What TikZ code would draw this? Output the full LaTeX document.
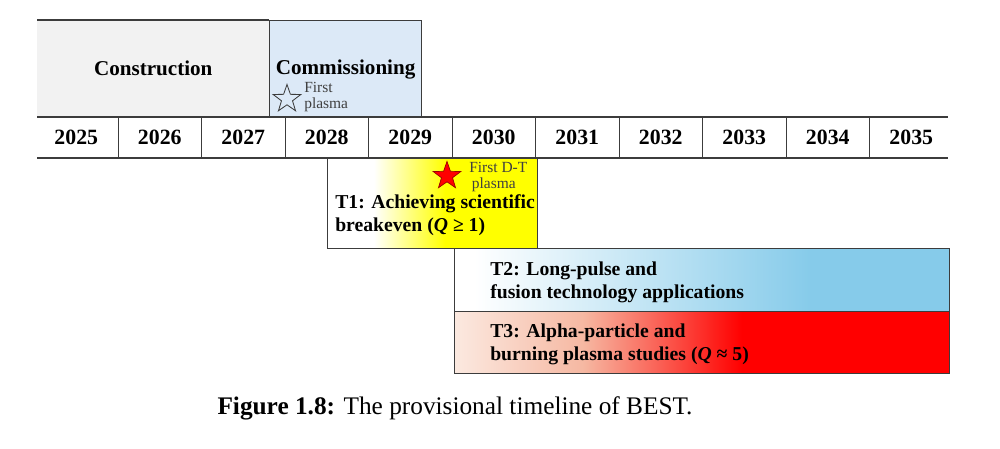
\documentclass[tikz,border=0pt]{standalone}
\usepackage{fontspec}
\setmainfont{Liberation Serif}
\usetikzlibrary{positioning,shapes.geometric}
\definecolor{bestframe}{HTML}{3C3C3C}
\definecolor{buildgray}{HTML}{F2F2F2}
\definecolor{commblue}{HTML}{DCE9F7}
\definecolor{skyfill}{HTML}{86CBEA}
\definecolor{peachfill}{HTML}{FBE9E0}
\definecolor{salmonfill}{HTML}{F6B8A2}
\definecolor{notegray}{HTML}{404040}
\pgfdeclarehorizontalshading{breakevenshade}{100bp}{color(0bp)=(white); color(36bp)=(white);
  color(53bp)=(yellow); color(100bp)=(yellow)}
\pgfdeclarehorizontalshading{longpulseshade}{100bp}{color(0bp)=(white); color(27bp)=(white);
  color(61bp)=(skyfill); color(100bp)=(skyfill)}
\pgfdeclarehorizontalshading{burningshade}{100bp}{color(0bp)=(peachfill); color(25bp)=(peachfill);
  color(38bp)=(salmonfill); color(54bp)=(red); color(100bp)=(red)}
\newcommand{\pxl}{0.025cm}
\tikzset{
  best line/.style={draw=bestframe,line width=0.9pt},
  best phase/.style={anchor=north west,inner sep=0pt,
    font=\fontsize{15}{18}\selectfont\bfseries},
  best year/.style={minimum width=83.5*\pxl,minimum height=41*\pxl,inner sep=0pt,
    font=\fontsize{15.5}{18}\selectfont\bfseries},
  best task/.style={best line,anchor=north west,inner sep=0pt},
  best tasktext/.style={anchor=west,align=left,inner sep=0pt,
    font=\fontsize{14}{16}\selectfont\bfseries},
  best note/.style={anchor=west,align=left,inner sep=0pt,text=notegray,
    font=\fontsize{11}{11}\selectfont},
  best star/.style={star,star points=5,star point ratio=2.5,inner sep=0pt,
    minimum size=29*\pxl},
  best caption/.style={font=\fontsize{18}{21}\selectfont}
}

\begin{document}
\begin{tikzpicture}[x=0.025cm,y=-0.025cm]
  \useasboundingbox (0,0) rectangle (1000,448);

  % Phases above the years.
  \node[best phase,fill=buildgray,minimum width=232*\pxl,minimum height=97*\pxl]
    (build) at (37,20) {Construction};
  \node[best phase,best line,fill=commblue,minimum width=152*\pxl,minimum height=97*\pxl]
    (comm) at (269,20) {Commissioning};
  \draw[best line] (build.north west) -- (comm.north west);
  \node[best star,draw=bestframe,line width=0.6pt] (plasmastar) at (287,99) {};
  \node[best note] (plasmanote) at (304,97) {First\\plasma};

  % Year row.
  \foreach \yr [count=\i from 0] in {2025,...,2035}
    \node[best year] (y\yr) at ({118+83.5*(\i-0.5)},137.5) {\yr};
  \foreach \yr in {2025,...,2034}
    \draw[best line] (y\yr.north east) -- (y\yr.south east);
  \draw[best line] (37,117) -- (948,117);
  \draw[best line] (37,158) -- (948,158);

  % Tasks.
  \node[best task,shading=breakevenshade,minimum width=210*\pxl,minimum height=90*\pxl]
    (taskone) at (327,158) {};
  \node[best task,shading=longpulseshade,minimum width=495*\pxl,minimum height=63*\pxl]
    (tasktwo) at (454,248) {};
  \node[best task,shading=burningshade,minimum width=495*\pxl,minimum height=62*\pxl]
    (taskthree) at (454,311) {};
  \node[best star,fill=red,draw=red!60!black,line width=0.5pt] (dtstar) at (447,176) {};
  \node[best note] (dtnote) at (469,177) {First D-T\\\,plasma};
  \node[best tasktext] (onetext) at (335,215)
    {T1: Achieving scientific\\breakeven (\textit{Q} ≥ 1)};
  \node[best tasktext] (twotext) at (490,282.5)
    {T2: Long-pulse and\\fusion technology applications};
  \node[best tasktext] (threetext) at (490,344.5)
    {T3: Alpha-particle and\\burning plasma studies (\textit{Q} ≈ 5)};

  \node[best caption] (caption) at (455,408)
    {\textbf{Figure 1.8:} The provisional timeline of BEST.};
\end{tikzpicture}
\end{document}
